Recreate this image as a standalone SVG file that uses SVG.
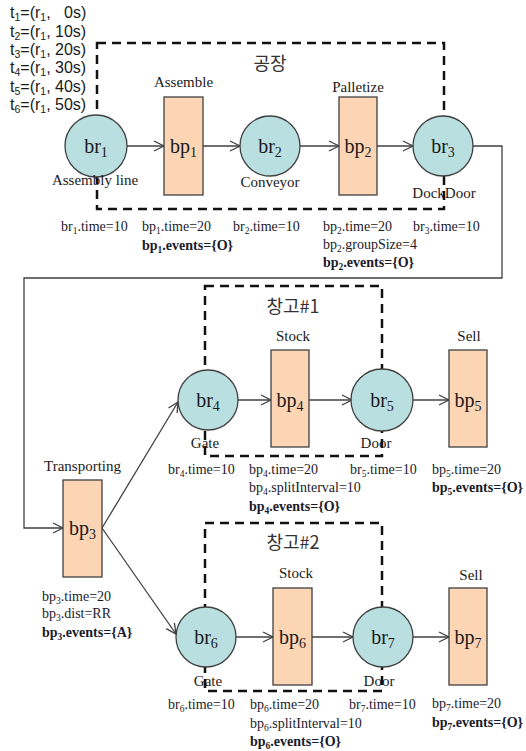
<svg xmlns="http://www.w3.org/2000/svg" width="526" height="751" viewBox="0 0 526 751">
<style>
.bg{fill:#ffffff}
.dash{fill:none;stroke:#111;stroke-width:2.5;stroke-dasharray:9,6}
.br{fill:#b9dfe1;stroke:#404040;stroke-width:1.3}
.bp{fill:#fcd5b5;stroke:#404040;stroke-width:1.3}
.ln{fill:none;stroke:#404040;stroke-width:1.3}
.nl{font-family:"Liberation Serif","Times New Roman",serif;font-size:20px;fill:#1a1a1a;text-anchor:middle}
.nl .s{font-size:14px;baseline-shift:-4px}
.lb{font-family:"Liberation Serif","Times New Roman",serif;font-size:15px;fill:#1a1a1a;text-anchor:middle}
.at{font-family:"Liberation Serif","Times New Roman",serif;font-size:14px;fill:#1a1a2a}
.at .s{font-size:9.5px;baseline-shift:-3px}
.b{font-weight:bold}
.tt{font-family:"Liberation Sans",Arial,sans-serif;font-size:16px;fill:#1a1a1a}
.tt .s{font-size:10.5px;baseline-shift:-3px}
.ko{font-family:"Noto Sans CJK KR","Noto Sans",sans-serif;font-size:18px;fill:#333;text-anchor:middle}
</style>
<defs>
<marker id="ah" markerUnits="userSpaceOnUse" markerWidth="14" markerHeight="14" refX="11" refY="6" orient="auto">
<path d="M1,1 L11,6 L1,11" fill="none" stroke="#404040" stroke-width="1.3"/>
</marker>
</defs>
<rect class="bg" x="0" y="0" width="526" height="751"/>

<g id="times">
<text class="tt" x="10" y="18">t<tspan class="s">1</tspan>=(r<tspan class="s">1</tspan>,<tspan x="64">0s)</tspan></text>
<text class="tt" x="10" y="37">t<tspan class="s">2</tspan>=(r<tspan class="s">1</tspan>,<tspan x="55">10s)</tspan></text>
<text class="tt" x="10" y="55">t<tspan class="s">3</tspan>=(r<tspan class="s">1</tspan>,<tspan x="55">20s)</tspan></text>
<text class="tt" x="10" y="73">t<tspan class="s">4</tspan>=(r<tspan class="s">1</tspan>,<tspan x="55">30s)</tspan></text>
<text class="tt" x="10" y="92">t<tspan class="s">5</tspan>=(r<tspan class="s">1</tspan>,<tspan x="55">40s)</tspan></text>
<text class="tt" x="10" y="110">t<tspan class="s">6</tspan>=(r<tspan class="s">1</tspan>,<tspan x="55">50s)</tspan></text>
</g>

<g id="groups">
<rect class="dash" x="97" y="43" width="347" height="166"/>
<text class="ko" x="270" y="70">공장</text>
<rect class="dash" x="205" y="286" width="177" height="170"/>
<text class="ko" x="293" y="313">창고#1</text>
<rect class="dash" x="205" y="523" width="177" height="168"/>
<text class="ko" x="293" y="549">창고#2</text>
</g>

<g id="connectors">
<line class="ln" x1="127" y1="146" x2="164" y2="146" marker-end="url(#ah)"/>
<line class="ln" x1="203" y1="146" x2="240" y2="146" marker-end="url(#ah)"/>
<line class="ln" x1="300" y1="146" x2="339" y2="146" marker-end="url(#ah)"/>
<line class="ln" x1="377" y1="146" x2="413" y2="146" marker-end="url(#ah)"/>
<polyline class="ln" points="473,146 502,146 502,278 24,278 24,528 63,528" marker-end="url(#ah)"/>
<line class="ln" x1="102" y1="528" x2="178" y2="402" marker-end="url(#ah)"/>
<line class="ln" x1="102" y1="528" x2="176" y2="634" marker-end="url(#ah)"/>
<line class="ln" x1="238" y1="400" x2="271" y2="400" marker-end="url(#ah)"/>
<line class="ln" x1="309" y1="400" x2="352" y2="400" marker-end="url(#ah)"/>
<line class="ln" x1="413" y1="400" x2="449" y2="400" marker-end="url(#ah)"/>
<line class="ln" x1="236" y1="637" x2="273" y2="637" marker-end="url(#ah)"/>
<line class="ln" x1="312" y1="637" x2="353" y2="637" marker-end="url(#ah)"/>
<line class="ln" x1="413" y1="637" x2="449" y2="637" marker-end="url(#ah)"/>
</g>

<g id="br1">
<circle class="br" cx="96" cy="146" r="31"/>
<text class="nl" x="96" y="153">br<tspan class="s">1</tspan></text>
<text class="lb" x="95" y="185">Assembly line</text>
<text class="at" x="61" y="231">br<tspan class="s">1</tspan>.time=10</text>
</g>
<g id="bp1">
<rect class="bp" x="164" y="97" width="39" height="98"/>
<text class="nl" x="183.5" y="153">bp<tspan class="s">1</tspan></text>
<text class="lb" x="183.5" y="87">Assemble</text>
<text class="at" x="142" y="231">bp<tspan class="s">1</tspan>.time=20</text>
<text class="at b" x="142" y="250">bp<tspan class="s">1</tspan>.events={O}</text>
</g>
<g id="br2">
<circle class="br" cx="270" cy="146" r="30"/>
<text class="nl" x="270" y="153">br<tspan class="s">2</tspan></text>
<text class="lb" x="270" y="187">Conveyor</text>
<text class="at" x="233" y="231">br<tspan class="s">2</tspan>.time=10</text>
</g>
<g id="bp2">
<rect class="bp" x="339" y="97" width="38" height="98"/>
<text class="nl" x="358" y="153">bp<tspan class="s">2</tspan></text>
<text class="lb" x="358" y="92">Palletize</text>
<text class="at" x="323" y="231">bp<tspan class="s">2</tspan>.time=20</text>
<text class="at" x="323" y="249">bp<tspan class="s">2</tspan>.groupSize=4</text>
<text class="at b" x="323" y="267">bp<tspan class="s">2</tspan>.events={O}</text>
</g>
<g id="br3">
<circle class="br" cx="443" cy="146" r="30"/>
<text class="nl" x="443" y="153">br<tspan class="s">3</tspan></text>
<text class="lb" x="444" y="198">DockDoor</text>
<text class="at" x="413" y="231">br<tspan class="s">3</tspan>.time=10</text>
</g>

<g id="bp3">
<rect class="bp" x="63" y="480" width="39" height="97"/>
<text class="nl" x="82.5" y="535">bp<tspan class="s">3</tspan></text>
<text class="lb" x="82.5" y="471">Transporting</text>
<text class="at" x="42" y="601">bp<tspan class="s">3</tspan>.time=20</text>
<text class="at" x="42" y="618">bp<tspan class="s">3</tspan>.dist=RR</text>
<text class="at b" x="42" y="637">bp<tspan class="s">3</tspan>.events={A}</text>
</g>

<g id="br4">
<circle class="br" cx="208" cy="400" r="30"/>
<text class="nl" x="208" y="407">br<tspan class="s">4</tspan></text>
<text class="lb" x="205" y="448">Gate</text>
<text class="at" x="168" y="474">br<tspan class="s">4</tspan>.time=10</text>
</g>
<g id="bp4">
<rect class="bp" x="271" y="350" width="38" height="97"/>
<text class="nl" x="290" y="407">bp<tspan class="s">4</tspan></text>
<text class="lb" x="293" y="341">Stock</text>
<text class="at" x="249" y="474">bp<tspan class="s">4</tspan>.time=20</text>
<text class="at" x="249" y="492">bp<tspan class="s">4</tspan>.splitInterval=10</text>
<text class="at b" x="249" y="511">bp<tspan class="s">4</tspan>.events={O}</text>
</g>
<g id="br5">
<circle class="br" cx="382" cy="400" r="31"/>
<text class="nl" x="382" y="407">br<tspan class="s">5</tspan></text>
<text class="lb" x="376" y="448">Door</text>
<text class="at" x="350" y="474">br<tspan class="s">5</tspan>.time=10</text>
</g>
<g id="bp5">
<rect class="bp" x="449" y="350" width="38" height="97"/>
<text class="nl" x="468" y="407">bp<tspan class="s">5</tspan></text>
<text class="lb" x="469" y="341">Sell</text>
<text class="at" x="432" y="474">bp<tspan class="s">5</tspan>.time=20</text>
<text class="at b" x="432" y="492">bp<tspan class="s">5</tspan>.events={O}</text>
</g>

<g id="br6">
<circle class="br" cx="206" cy="637" r="30"/>
<text class="nl" x="206" y="644">br<tspan class="s">6</tspan></text>
<text class="lb" x="208" y="686">Gate</text>
<text class="at" x="168" y="709">br<tspan class="s">6</tspan>.time=10</text>
</g>
<g id="bp6">
<rect class="bp" x="273" y="588" width="39" height="97"/>
<text class="nl" x="292.5" y="644">bp<tspan class="s">6</tspan></text>
<text class="lb" x="296" y="578">Stock</text>
<text class="at" x="250" y="709">bp<tspan class="s">6</tspan>.time=20</text>
<text class="at" x="250" y="728">bp<tspan class="s">6</tspan>.splitInterval=10</text>
<text class="at b" x="250" y="746">bp<tspan class="s">6</tspan>.events={O}</text>
</g>
<g id="br7">
<circle class="br" cx="383" cy="637" r="30"/>
<text class="nl" x="383" y="644">br<tspan class="s">7</tspan></text>
<text class="lb" x="379" y="686">Door</text>
<text class="at" x="349" y="709">br<tspan class="s">7</tspan>.time=10</text>
</g>
<g id="bp7">
<rect class="bp" x="449" y="588" width="38" height="97"/>
<text class="nl" x="468" y="644">bp<tspan class="s">7</tspan></text>
<text class="lb" x="471" y="580">Sell</text>
<text class="at" x="432" y="708">bp<tspan class="s">7</tspan>.time=20</text>
<text class="at b" x="432" y="727">bp<tspan class="s">7</tspan>.events={O}</text>
</g>
</svg>
